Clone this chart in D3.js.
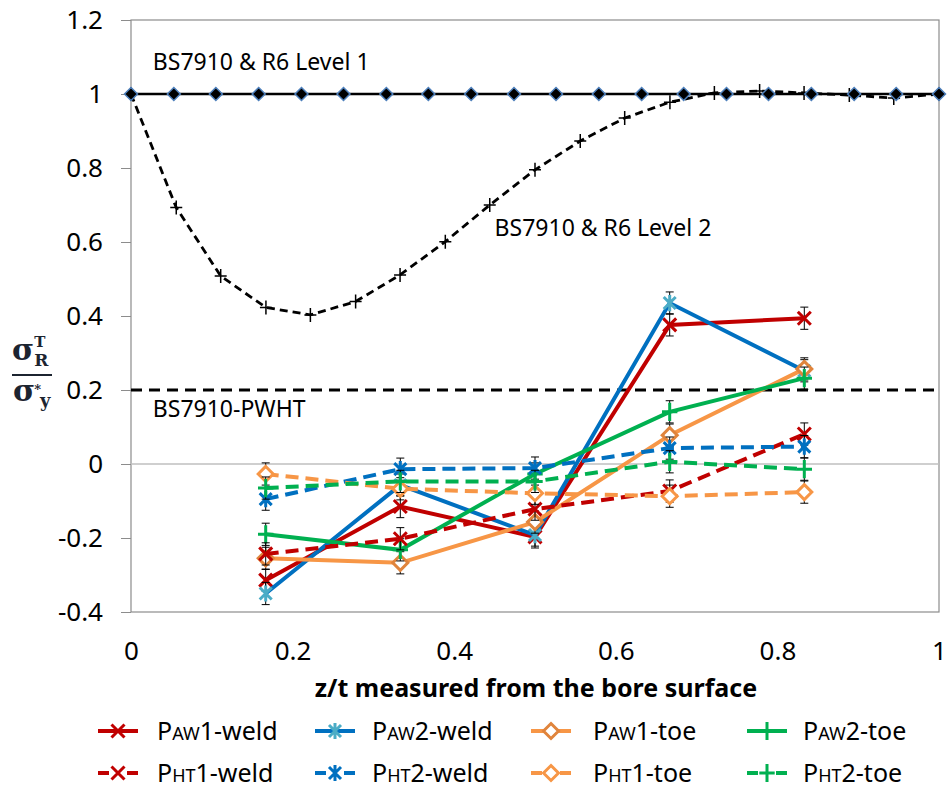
<!DOCTYPE html>
<html>
<head>
<meta charset="utf-8">
<script src="https://cdn.jsdelivr.net/npm/d3@7"></script>
<style>
body { margin: 0; background: #fff; }
svg text { font-family: "Noto Sans", sans-serif; fill: #000; }
</style>
</head>
<body>
<svg width="949" height="788"></svg>
<script>

// DATA

const depth = [0.1667, 0.3333, 0.5, 0.6667, 0.8333];

const pAw1Weld = [-0.314, -0.115, -0.197, 0.376, 0.394];
const pAw2Weld = [-0.350, -0.057, -0.192, 0.435, 0.252];
const pAw1Toe  = [-0.255, -0.267, -0.157, 0.078, 0.257];
const pAw2Toe  = [-0.190, -0.232, -0.027, 0.141, 0.232];
const pHt1Weld = [-0.243, -0.202, -0.122, -0.073, 0.081];
const pHt2Weld = [-0.095, -0.014, -0.011, 0.043, 0.047];
const pHt1Toe  = [-0.027, -0.067, -0.079, -0.087, -0.076];
const pHt2Toe  = [-0.065, -0.047, -0.047, 0.006, -0.014];

const errSize = 0.03;

const level1X = [0, 0.053, 0.105, 0.158, 0.211, 0.263, 0.316, 0.368, 0.421, 0.474,
                 0.526, 0.579, 0.632, 0.684, 0.737, 0.789, 0.842, 0.895, 0.947, 1];
const level1Y = [1, 1, 1, 1, 1, 1, 1, 1, 1, 1, 1, 1, 1, 1, 1, 1, 1, 1, 1, 1];

const level2X = [0, 0.056, 0.111, 0.167, 0.222, 0.278, 0.333, 0.389, 0.444, 0.5,
                 0.556, 0.611, 0.667, 0.722, 0.778, 0.833, 0.889, 0.944, 1];
const level2Y = [1, 0.693, 0.508, 0.423, 0.403, 0.439, 0.511, 0.601, 0.700, 0.795,
                 0.873, 0.935, 0.978, 1.003, 1.008, 1.003, 0.997, 0.989, 1.0];

const pwhtX = [0, 1];
const pwhtY = [0.2, 0.2];

const xTicks = [0, 0.2, 0.4, 0.6, 0.8, 1];
const yTicks = [-0.4, -0.2, 0, 0.2, 0.4, 0.6, 0.8, 1, 1.2];

const series = [
    {name: ["P", "AW", "1-weld"], values: pAw1Weld, color: "#c00000", mcolor: "#c00000", marker: "x", dash: null},
    {name: ["P", "AW", "2-weld"], values: pAw2Weld, color: "#0070c0", mcolor: "#4bacc6", marker: "star", dash: null},
    {name: ["P", "AW", "1-toe"], values: pAw1Toe, color: "#f79646", mcolor: "#e0843c", marker: "diamond", dash: null},
    {name: ["P", "AW", "2-toe"], values: pAw2Toe, color: "#00b050", mcolor: "#00b050", marker: "plus", dash: null},
    {name: ["P", "HT", "1-weld"], values: pHt1Weld, color: "#c00000", mcolor: "#c00000", marker: "x", dash: "13,7"},
    {name: ["P", "HT", "2-weld"], values: pHt2Weld, color: "#0070c0", mcolor: "#0070c0", marker: "star", dash: "13,7"},
    {name: ["P", "HT", "1-toe"], values: pHt1Toe, color: "#f79646", mcolor: "#f79646", marker: "diamond", dash: "13,7"},
    {name: ["P", "HT", "2-toe"], values: pHt2Toe, color: "#00b050", mcolor: "#00b050", marker: "plus", dash: "13,7"}
];


var svg = d3.select("svg");

var x = d3.scaleLinear().domain([0, 1]).range([131, 939]);
var y = d3.scaleLinear().domain([-0.4, 1.2]).range([612, 20]);

function numLabel(d) { return String(+d.toFixed(1)); }

// plot frame
svg.append("rect")
    .attr("x", x(0)).attr("y", y(1.2))
    .attr("width", x(1) - x(0)).attr("height", y(-0.4) - y(1.2))
    .attr("fill", "none").attr("stroke", "#8c8c8c").attr("stroke-width", 1.2);

svg.append("line")
    .attr("x1", x(0)).attr("x2", x(1))
    .attr("y1", y(0)).attr("y2", y(0))
    .attr("stroke", "#bfbfbf").attr("stroke-width", 1.5);

var yAxis = d3.axisLeft(y).tickValues(yTicks).tickSize(10).tickPadding(18).tickFormat(numLabel);
var gY = svg.append("g").attr("transform", "translate(" + x(0) + ",0)").call(yAxis);
gY.select(".domain").remove();
gY.selectAll(".tick line").attr("stroke", "#8c8c8c");
gY.selectAll(".tick text").style("font-size", "26px");

var xAxis = d3.axisBottom(x).tickValues(xTicks).tickSize(0).tickPadding(30).tickFormat(numLabel);
var gX = svg.append("g").attr("transform", "translate(0," + y(-0.4) + ")").call(xAxis);
gX.select(".domain").remove();
gX.selectAll(".tick text").style("font-size", "26px");

svg.append("text")
    .attr("x", 536).attr("y", 697)
    .attr("text-anchor", "middle")
    .style("font-size", "25px").style("font-weight", "bold")
    .text("z/t measured from the bore surface");

// y axis label as a fraction
var labColor = "#1c2430";
var serif = "'DejaVu Serif', serif";
var num = svg.append("text").attr("x", 12).attr("y", 360)
    .style("font-family", serif).style("font-weight", "bold").style("fill", labColor).style("font-size", "30px");
num.append("tspan").text("σ");
num.append("tspan").attr("dy", -13).style("font-size", "15px").text("T");
num.append("tspan").attr("dx", -11).attr("dy", 19).style("font-size", "17px").text("R");

svg.append("line").attr("x1", 12).attr("x2", 52).attr("y1", 375).attr("y2", 375)
    .attr("stroke", labColor).attr("stroke-width", 2);

var den = svg.append("text").attr("x", 13).attr("y", 401)
    .style("font-family", serif).style("font-weight", "bold").style("fill", labColor).style("font-size", "30px");
den.append("tspan").text("σ");
den.append("tspan").attr("dx", -1).attr("dy", -7).style("font-size", "13px").text("*");
den.append("tspan").attr("dx", -1).attr("dy", 13).style("font-size", "18px").text("y");

// markers
function markerPath(type, s) {
    if (type == "x") return "M" + -s + "," + -s + "L" + s + "," + s + "M" + -s + "," + s + "L" + s + "," + -s;
    if (type == "star") return "M" + -s + "," + -s + "L" + s + "," + s + "M" + -s + "," + s + "L" + s + "," + -s +
        "M0," + (-s * 1.35) + "L0," + (s * 1.35);
    if (type == "plus") return "M" + (-s * 1.1) + ",0L" + (s * 1.1) + ",0M0," + (-s * 1.3) + "L0," + (s * 1.3);
    if (type == "diamond") return "M0," + -s + "L" + s + ",0L0," + s + "L" + -s + ",0Z";
}
var markerSize = {x: 6.5, star: 6, plus: 7, diamond: 7.5};

// reference lines
var lineGen = d3.line().x(d => x(d[0])).y(d => y(d[1]));

svg.append("path")
    .datum(pwhtX.map((v, i) => [v, pwhtY[i]]))
    .attr("d", lineGen)
    .attr("fill", "none").attr("stroke", "#000").attr("stroke-width", 3)
    .attr("stroke-dasharray", "11,7");

var lev2 = level2X.map((v, i) => [v, level2Y[i]]);
svg.append("path")
    .datum(lev2)
    .attr("d", lineGen)
    .attr("fill", "none").attr("stroke", "#000").attr("stroke-width", 2.8)
    .attr("stroke-dasharray", "8,5");
svg.selectAll(".lev2m")
    .data(lev2)
    .enter().append("path")
    .attr("class", "lev2m")
    .attr("transform", d => "translate(" + x(d[0]) + "," + y(d[1]) + ")")
    .attr("d", "M-6,0L6,0M0,-7L0,7")
    .attr("stroke", "#000").attr("stroke-width", 1.5);

var lev1 = level1X.map((v, i) => [v, level1Y[i]]);
svg.append("path")
    .datum(lev1)
    .attr("d", lineGen)
    .attr("fill", "none").attr("stroke", "#000").attr("stroke-width", 2.5);
svg.selectAll(".lev1m")
    .data(lev1)
    .enter().append("path")
    .attr("class", "lev1m")
    .attr("transform", d => "translate(" + x(d[0]) + "," + y(d[1]) + ")")
    .attr("d", markerPath("diamond", 6.5))
    .attr("fill", "#000").attr("stroke", "#4f81bd").attr("stroke-width", 1.5);

svg.append("text").attr("x", x(0.027)).attr("y", y(1.065)).style("font-size", "23px").text("BS7910 & R6 Level 1");
svg.append("text").attr("x", x(0.45)).attr("y", y(0.615)).style("font-size", "23px").text("BS7910 & R6 Level 2");
svg.append("text").attr("x", x(0.027)).attr("y", y(0.127)).style("font-size", "23px").text("BS7910-PWHT");

// data series
series.forEach(function (s) {
    var pts = depth.map((d, i) => [d, s.values[i]]);
    var g = svg.append("g");

    g.selectAll(".err")
        .data(pts)
        .enter().append("path")
        .attr("d", d => {
            var cx = x(d[0]), y0 = y(d[1] - errSize), y1 = y(d[1] + errSize);
            return "M" + cx + "," + y0 + "L" + cx + "," + y1 +
                "M" + (cx - 4) + "," + y0 + "L" + (cx + 4) + "," + y0 +
                "M" + (cx - 4) + "," + y1 + "L" + (cx + 4) + "," + y1;
        })
        .attr("stroke", "#000").attr("stroke-width", 1).attr("fill", "none");

    g.append("path")
        .datum(pts)
        .attr("d", lineGen)
        .attr("fill", "none").attr("stroke", s.color).attr("stroke-width", 4)
        .attr("stroke-dasharray", s.dash);

    g.selectAll(".mk")
        .data(pts)
        .enter().append("path")
        .attr("transform", d => "translate(" + x(d[0]) + "," + y(d[1]) + ")")
        .attr("d", markerPath(s.marker, markerSize[s.marker]))
        .attr("fill", s.marker == "diamond" ? "#fff" : "none")
        .attr("stroke", s.mcolor).attr("stroke-width", 3);
});

// legend
var legCols = [98, 315, 531, 747];
var legText = [59, 57, 62, 56];
var legRows = [731, 773];
series.forEach(function (s, i) {
    var lx = legCols[i % 4], ly = legRows[Math.floor(i / 4)];
    var g = svg.append("g").attr("transform", "translate(" + lx + "," + ly + ")");
    if (s.dash) {
        g.append("path").attr("d", "M0,0L11,0M29,0L40,0")
            .attr("stroke", s.color).attr("stroke-width", 4);
    } else {
        g.append("line").attr("x1", 0).attr("x2", 40).attr("y1", 0).attr("y2", 0)
            .attr("stroke", s.color).attr("stroke-width", 4);
    }
    g.append("path").attr("transform", "translate(20,0)")
        .attr("d", markerPath(s.marker, markerSize[s.marker]))
        .attr("fill", s.marker == "diamond" ? "#fff" : "none")
        .attr("stroke", s.mcolor).attr("stroke-width", 3);
    var t = g.append("text").attr("x", legText[i % 4])
        .attr("y", 9).style("font-size", "25px");
    t.append("tspan").text(s.name[0]);
    t.append("tspan").style("font-size", "18px").text(s.name[1]);
    t.append("tspan").text(s.name[2]);
});

</script>
</body>
</html>
